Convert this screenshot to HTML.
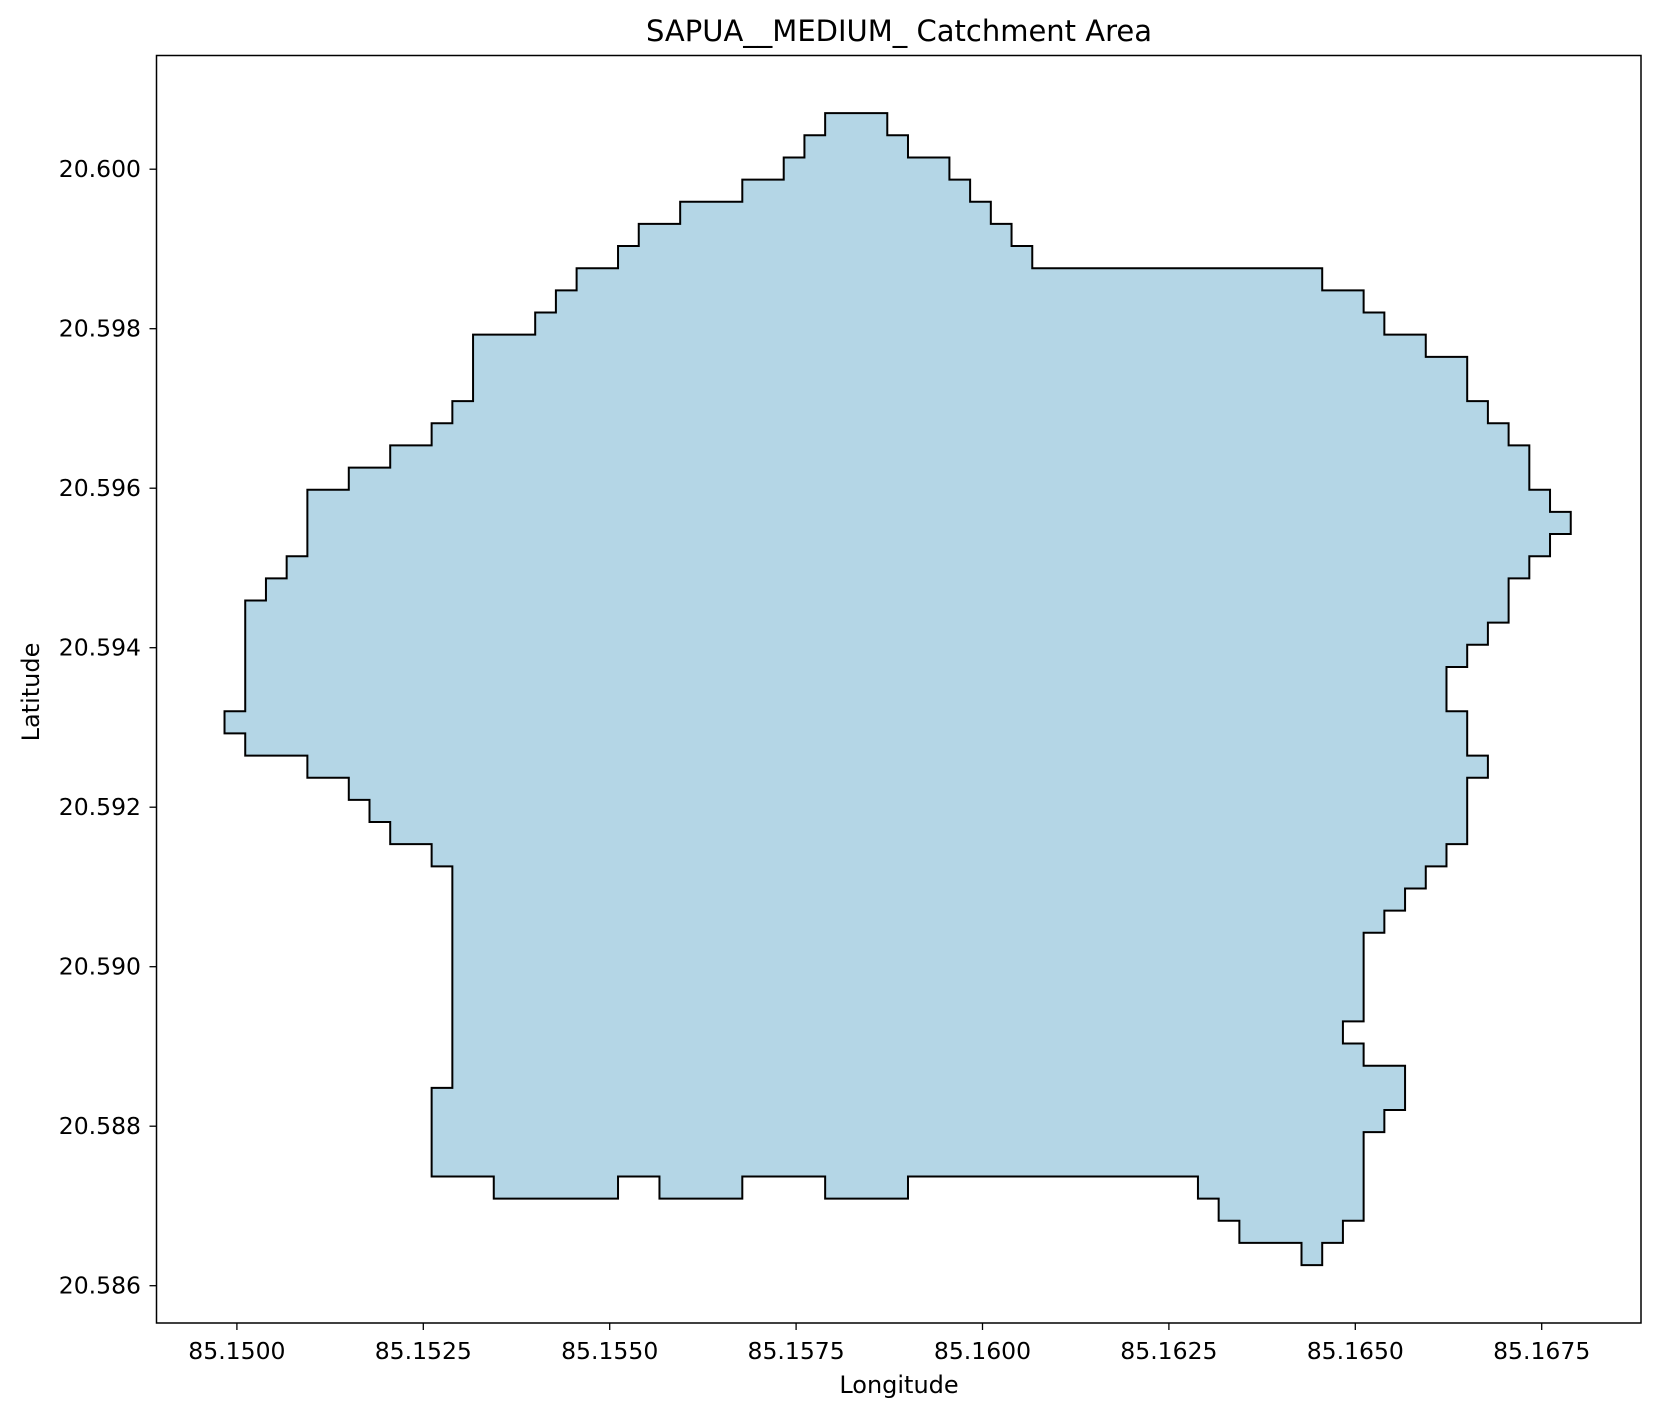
<!DOCTYPE html>
<html><head><meta charset="utf-8"><style>
html,body{margin:0;padding:0;background:#fff;}
svg{display:block;font-family:"DejaVu Sans","Liberation Sans",sans-serif;}
</style></head><body>
<svg id="chart" width="1658" height="1417" viewBox="0 0 1658 1417" xmlns="http://www.w3.org/2000/svg">
<rect x="0" y="0" width="1658" height="1417" fill="#fff"/>
<text x="899" y="41" font-size="29" text-anchor="middle">SAPUA__MEDIUM_ Catchment Area</text>
<g id="plot"></g>
<rect x="156.5" y="55.5" width="1484.5" height="1267.5" fill="none" stroke="#000" stroke-width="1.5"/>
<text x="899" y="1393" font-size="24" text-anchor="middle">Longitude</text>
<text transform="translate(39,692) rotate(-90)" font-size="24" text-anchor="middle">Latitude</text>
</svg>
<script>
// polygon vertices in 1-arcsecond grid cells
const colIdx = [29,32,32,33,33,35,35,36,36,37,37,38,38,39,39,53,53,55,55,56,56,58,58,60,60,61,61,62,62,63,63,64,64,65,65,64,64,63,63,62,62,61,61,60,60,59,59,60,60,61,61,60,60,59,59,58,58,57,57,56,56,55,55,54,54,55,55,57,57,56,56,55,55,54,54,53,53,52,52,49,49,48,48,47,47,33,33,29,29,25,25,21,21,19,19,13,13,10,10,11,11,10,10,8,8,7,7,6,6,4,4,1,1,0,0,1,1,2,2,3,3,4,4,6,6,8,8,10,10,11,11,12,12,15,15,16,16,17,17,19,19,20,20,22,22,25,25,27,27,28,28,29];
const rowIdx = [0,0,1,1,2,2,3,3,4,4,5,5,6,6,7,7,8,8,9,9,10,10,11,11,13,13,14,14,15,15,17,17,18,18,19,19,20,20,21,21,23,23,24,24,25,25,27,27,29,29,30,30,33,33,34,34,35,35,36,36,37,37,41,41,42,42,43,43,45,45,46,46,50,50,51,51,52,52,51,51,50,50,49,49,48,48,49,49,48,48,49,49,48,48,49,49,48,48,44,44,34,34,33,33,32,32,31,31,30,30,29,29,28,28,27,27,22,22,21,21,20,20,17,17,16,16,15,15,14,14,13,13,10,10,9,9,8,8,7,7,6,6,5,5,4,4,3,3,2,2,1,1];
const xTicks = [85.15,85.1525,85.155,85.1575,85.16,85.1625,85.165,85.1675];
const xTickLabels = ["85.1500","85.1525","85.1550","85.1575","85.1600","85.1625","85.1650","85.1675"];
const yTicks = [20.586,20.588,20.590,20.592,20.594,20.596,20.598,20.600];
const yTickLabels = ["20.586","20.588","20.590","20.592","20.594","20.596","20.598","20.600"];
const LON0 = 85.149834, LAT0 = 20.600703, STEP = 1/3600;

function xs(lon){return 236.9 + (lon-85.15)/0.0025*186.4;}
function ys(lat){return 169.2 + (20.600-lat)/0.002*159.5;}

const NS="http://www.w3.org/2000/svg";
const svg=document.getElementById('chart');
const plot=document.getElementById('plot');

let pts=[];
for(let i=0;i<colIdx.length;i++){
  const lon=LON0+colIdx[i]*STEP, lat=LAT0-rowIdx[i]*STEP;
  pts.push(xs(lon).toFixed(2)+','+ys(lat).toFixed(2));
}
const poly=document.createElementNS(NS,'polygon');
poly.setAttribute('points',pts.join(' '));
poly.setAttribute('fill','#b4d6e6');
poly.setAttribute('stroke','#000');
poly.setAttribute('stroke-width','2');
poly.setAttribute('stroke-linejoin','miter');


plot.appendChild(poly);

xTicks.forEach((v,i)=>{
  const x=xs(v);
  const t=document.createElementNS(NS,'line');
  t.setAttribute('x1',x);t.setAttribute('x2',x);t.setAttribute('y1',1323);t.setAttribute('y2',1330);
  t.setAttribute('stroke','#000');t.setAttribute('stroke-width','1.3');
  
  
  svg.appendChild(t);
  const l=document.createElementNS(NS,'text');
  l.setAttribute('x',x);l.setAttribute('y',1359);l.setAttribute('font-size','23.5');l.setAttribute('text-anchor','middle');
  l.textContent=xTickLabels[i];
  
  
  svg.appendChild(l);
});
yTicks.forEach((v,i)=>{
  const y=ys(v);
  const t=document.createElementNS(NS,'line');
  t.setAttribute('x1',149.5);t.setAttribute('x2',156.5);t.setAttribute('y1',y);t.setAttribute('y2',y);
  t.setAttribute('stroke','#000');t.setAttribute('stroke-width','1.3');
  
  
  svg.appendChild(t);
  const l=document.createElementNS(NS,'text');
  l.setAttribute('x',141);l.setAttribute('y',y+8);l.setAttribute('font-size','23.5');l.setAttribute('text-anchor','end');
  l.textContent=yTickLabels[i];
  
  
  svg.appendChild(l);
});
</script>
</body></html>
